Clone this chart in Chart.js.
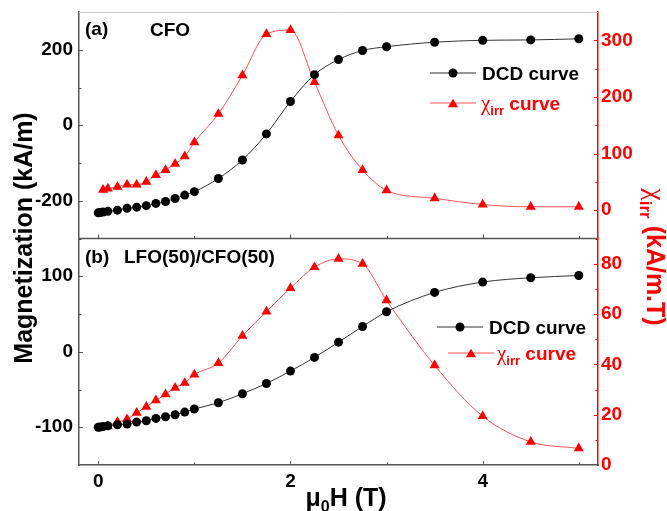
<!DOCTYPE html>
<html>
<head>
<meta charset="utf-8">
<script src="https://cdn.jsdelivr.net/npm/chart.js@4/dist/chart.umd.min.js"></script>
<style>
  html, body { margin: 0; padding: 0; background: #fff; }
</style>
</head>
<body>
<canvas id="c" width="667" height="511"></canvas>
<script>
// panel (a) CFO
const fieldDcdA = [0, 0.02, 0.05, 0.1, 0.2, 0.3, 0.4, 0.5, 0.6, 0.7, 0.8, 0.9, 1.0, 1.25, 1.5, 1.75, 2.0, 2.25, 2.5, 2.75, 3.0, 3.5, 4.0, 4.5, 5.0];
const dcdA = [-232, -231, -230, -228, -225, -220, -217, -213, -207, -202, -194, -185, -176, -141, -92, -23, 63, 134, 174, 198, 208, 220, 225, 226, 229];
const fieldChiA = [0.05, 0.1, 0.2, 0.3, 0.4, 0.5, 0.6, 0.7, 0.8, 0.9, 1.0, 1.25, 1.5, 1.75, 2.0, 2.25, 2.5, 2.75, 3.0, 3.5, 4.0, 4.5, 5.0];
const chiA = [36, 38, 41, 45, 45, 50, 62, 71, 82, 95, 120, 170, 238, 311, 318, 226, 132, 71, 35, 21, 10, 6, 6];

// panel (b) LFO(50)/CFO(50)
const fieldDcdB = [0, 0.02, 0.05, 0.1, 0.2, 0.3, 0.4, 0.5, 0.6, 0.7, 0.8, 0.9, 1.0, 1.25, 1.5, 1.75, 2.0, 2.25, 2.5, 2.75, 3.0, 3.5, 4.0, 4.5, 5.0];
const dcdB = [-100, -99.7, -99, -98, -96.7, -95.8, -93.2, -91.4, -88.3, -86.1, -83.4, -79.9, -75.9, -67.5, -55.6, -42, -25.6, -7.5, 12.7, 33.5, 53, 78.6, 92.3, 98, 101];
const fieldChiB = [0.1, 0.2, 0.3, 0.4, 0.5, 0.6, 0.7, 0.8, 0.9, 1.0, 1.25, 1.5, 1.75, 2.0, 2.25, 2.5, 2.75, 3.0, 3.5, 4.0, 4.5, 5.0];
const chiB = [15.4, 17.1, 18.2, 20.7, 23.1, 25.7, 28.1, 30.7, 32.6, 35.9, 40.5, 51.3, 61, 70.3, 78.6, 81.9, 79.9, 65.4, 39.6, 19.4, 9.2, 6.6];

// ticks (all tick marks, and which ones get a label)
const xTicks = [0, 1, 2, 3, 4, 5];
const xLabels = [0, 2, 4];
const magATicks = [-300, -200, -100, 0, 100, 200, 300];
const magALabels = [-200, 0, 200];
const chiATicks = [-50, 0, 50, 100, 150, 200, 250, 300, 350];
const chiALabels = [0, 100, 200, 300];
const magBTicks = [-150, -100, -50, 0, 50, 100, 150];
const magBLabels = [-100, 0, 100];
const chiBTicks = [0, 10, 20, 30, 40, 50, 60, 70, 80, 90];
const chiBLabels = [0, 20, 40, 60, 80];

const fam = "'Liberation Sans', Arial, sans-serif";
const tickFont = { family: fam, size: 19, weight: 'bold' };
const RED = '#ff0000';
const GRAY = '#555';

const pts = (xs, ys) => xs.map((x, i) => ({ x: x, y: ys[i] }));

function axis(tickVals, tickLabels, color, border, pad, extra) {
  return Object.assign({
    type: 'linear',
    grid: { display: false, drawTicks: false },
    border: { display: true, color: border, width: 1.5 },
    afterBuildTicks: s => { s.ticks = tickVals.map(v => ({ value: v })); },
    ticks: {
      autoSkip: false, font: tickFont, color: color, padding: pad,
      callback: v => tickLabels.includes(v) ? String(v) : ''
    }
  }, extra);
}

// fixed axis sizes so the plot area lands where the original has it
const fitY = w => s => { s.width = w; s.paddingTop = 0; s.paddingBottom = 0; };
const fitX = h => s => { s.height = h; s.paddingLeft = 0; s.paddingRight = 0; };

const dcdStyle = {
  borderColor: '#333', borderWidth: 1, pointStyle: 'circle', pointRadius: 4.5,
  pointBackgroundColor: '#000', pointBorderColor: '#000', pointBorderWidth: 0,
  cubicInterpolationMode: 'monotone'
};
const chiStyle = {
  borderColor: '#ff5050', borderWidth: 1, pointStyle: 'triangle', pointRadius: 5.8,
  pointBackgroundColor: RED, pointBorderColor: RED, pointBorderWidth: 0,
  cubicInterpolationMode: 'monotone'
};

function parts(ctx, list, x, y, center) {
  let w = 0;
  list.forEach(p => { ctx.font = p.f; p.w = ctx.measureText(p.t).width; w += p.w; });
  let cx = center ? x - w / 2 : x;
  ctx.textAlign = 'left';
  ctx.textBaseline = 'alphabetic';
  list.forEach(p => { ctx.font = p.f; ctx.fillText(p.t, cx, y + (p.dy || 0)); cx += p.w; });
}

function chiParts(size, rest) {
  return [
    { t: 'χ', f: `${Math.round(size * 1.1)}px 'Liberation Serif', serif` },
    { t: 'irr', f: `bold ${Math.round(size * 0.68)}px ${fam}`, dy: size * 0.28 },
    { t: rest, f: `bold ${size}px ${fam}` }
  ];
}

function legendRow(ctx, x0, x1, y, kind) {
  ctx.lineWidth = 1;
  ctx.strokeStyle = kind === 'dcd' ? '#333' : '#ff5050';
  ctx.beginPath(); ctx.moveTo(x0, y); ctx.lineTo(x1, y); ctx.stroke();
  const mx = (x0 + x1) / 2;
  ctx.fillStyle = kind === 'dcd' ? '#000' : RED;
  ctx.beginPath();
  if (kind === 'dcd') {
    ctx.arc(mx, y, 4.5, 0, Math.PI * 2);
  } else {
    const r = 5.8, cy = y + r * 0.25;
    ctx.moveTo(mx, cy - r);
    ctx.lineTo(mx + r * 0.866, cy + r * 0.5);
    ctx.lineTo(mx - r * 0.866, cy + r * 0.5);
    ctx.closePath();
  }
  ctx.fill();
}

const decor = {
  id: 'decor',
  afterDraw(chart) {
    const { ctx, chartArea: a, scales } = chart;
    const yMid = scales.yMa.bottom;
    ctx.save();

    // top frame line and panel divider
    ctx.lineWidth = 1;
    ctx.strokeStyle = '#d0d0d0';
    ctx.beginPath(); ctx.moveTo(a.left, a.top + 0.5); ctx.lineTo(a.right, a.top + 0.5); ctx.stroke();
    ctx.lineWidth = 1.5;
    ctx.strokeStyle = GRAY;
    ctx.beginPath(); ctx.moveTo(a.left, yMid); ctx.lineTo(a.right, yMid); ctx.stroke();

    // small inward tick marks
    ctx.lineWidth = 1;
    const yTick = (s, labels, dir, color) => {
      ctx.strokeStyle = color;
      s.ticks.forEach(t => {
        const p = Math.round(s.getPixelForValue(t.value)) + 0.5;
        if (p < s.top + 1 || p > s.bottom - 1) return;
        const len = labels.includes(t.value) ? 4 : 2.5;
        const x = dir > 0 ? s.right : s.left;
        ctx.beginPath(); ctx.moveTo(x, p); ctx.lineTo(x + dir * len, p); ctx.stroke();
      });
    };
    yTick(scales.yMa, magALabels, 1, GRAY);
    yTick(scales.yMb, magBLabels, 1, GRAY);
    yTick(scales.yCa, chiALabels, -1, RED);
    yTick(scales.yCb, chiBLabels, -1, RED);
    ctx.strokeStyle = GRAY;
    scales.x.ticks.forEach(t => {
      const p = Math.round(scales.x.getPixelForValue(t.value)) + 0.5;
      const len = xLabels.includes(t.value) ? 4 : 2.5;
      [a.bottom, yMid].forEach(yb => {
        ctx.beginPath(); ctx.moveTo(p, yb); ctx.lineTo(p, yb - len); ctx.stroke();
      });
    });

    // panel labels
    ctx.fillStyle = '#000';
    ctx.font = `bold 19px ${fam}`;
    ctx.textAlign = 'left';
    ctx.fillText('(a)', 85, 35);
    ctx.fillText('CFO', 150, 36);
    ctx.fillText('(b)', 85, 263);
    ctx.fillText('LFO(50)/CFO(50)', 124, 263);

    // legends
    legendRow(ctx, 430, 476, 73, 'dcd');
    ctx.fillStyle = '#000';
    ctx.font = `bold 19px ${fam}`;
    ctx.fillText('DCD curve', 482, 80);
    legendRow(ctx, 430, 476, 103, 'chi');
    ctx.fillStyle = RED;
    parts(ctx, chiParts(19, ' curve'), 481, 110, false);

    legendRow(ctx, 437, 483, 327, 'dcd');
    ctx.fillStyle = '#000';
    ctx.font = `bold 19px ${fam}`;
    ctx.fillText('DCD curve', 489, 334);
    legendRow(ctx, 448, 494, 353, 'chi');
    ctx.fillStyle = RED;
    parts(ctx, chiParts(19, ' curve'), 497, 360, false);

    // axis titles
    ctx.fillStyle = '#000';
    ctx.save();
    ctx.translate(32, 238);
    ctx.rotate(-Math.PI / 2);
    ctx.textAlign = 'center';
    ctx.font = `bold 25px ${fam}`;
    ctx.fillText('Magnetization (kA/m)', 0, 0);
    ctx.restore();

    ctx.fillStyle = RED;
    ctx.save();
    ctx.translate(647, 257);
    ctx.rotate(Math.PI / 2);
    parts(ctx, chiParts(25, ' (kA/m.T)'), 0, 0, true);
    ctx.restore();

    ctx.fillStyle = '#000';
    parts(ctx, [
      { t: 'μ', f: `bold 25px ${fam}` },
      { t: '0', f: `bold 16px ${fam}`, dy: 6 },
      { t: 'H (T)', f: `bold 25px ${fam}` }
    ], 346, 506, true);

    ctx.restore();
  }
};

new Chart(document.getElementById('c'), {
  type: 'line',
  data: {
    datasets: [
      Object.assign({ label: 'DCD curve (a)', data: pts(fieldDcdA, dcdA), yAxisID: 'yMa' }, dcdStyle),
      Object.assign({ label: 'χirr curve (a)', data: pts(fieldChiA, chiA), yAxisID: 'yCa' }, chiStyle),
      Object.assign({ label: 'DCD curve (b)', data: pts(fieldDcdB, dcdB), yAxisID: 'yMb' }, dcdStyle),
      Object.assign({ label: 'χirr curve (b)', data: pts(fieldChiB, chiB), yAxisID: 'yCb' }, chiStyle)
    ]
  },
  options: {
    responsive: false,
    animation: false,
    layout: { padding: { top: 12, left: 0, right: 0, bottom: 0 } },
    plugins: { legend: { display: false }, tooltip: { enabled: false } },
    scales: {
      x: axis(xTicks, xLabels, '#000', GRAY, 5, {
        min: -0.2, max: 5.2, position: 'bottom', afterFit: fitX(46)
      }),
      yMb: axis(magBTicks, magBLabels, '#000', GRAY, 6, {
        min: -150, max: 150, position: 'left', stack: 'left', stackWeight: 1, afterFit: fitY(79)
      }),
      yMa: axis(magATicks, magALabels, '#000', GRAY, 6, {
        min: -300, max: 300, position: 'left', stack: 'left', stackWeight: 1, afterFit: fitY(79)
      }),
      yCa: axis(chiATicks, chiALabels, RED, RED, 3, {
        min: -50, max: 350, position: 'right', stack: 'right', stackWeight: 1, afterFit: fitY(69)
      }),
      yCb: axis(chiBTicks, chiBLabels, RED, RED, 3, {
        min: 0, max: 90, position: 'right', stack: 'right', stackWeight: 1, afterFit: fitY(69)
      })
    }
  },
  plugins: [decor]
});
</script>
</body>
</html>
